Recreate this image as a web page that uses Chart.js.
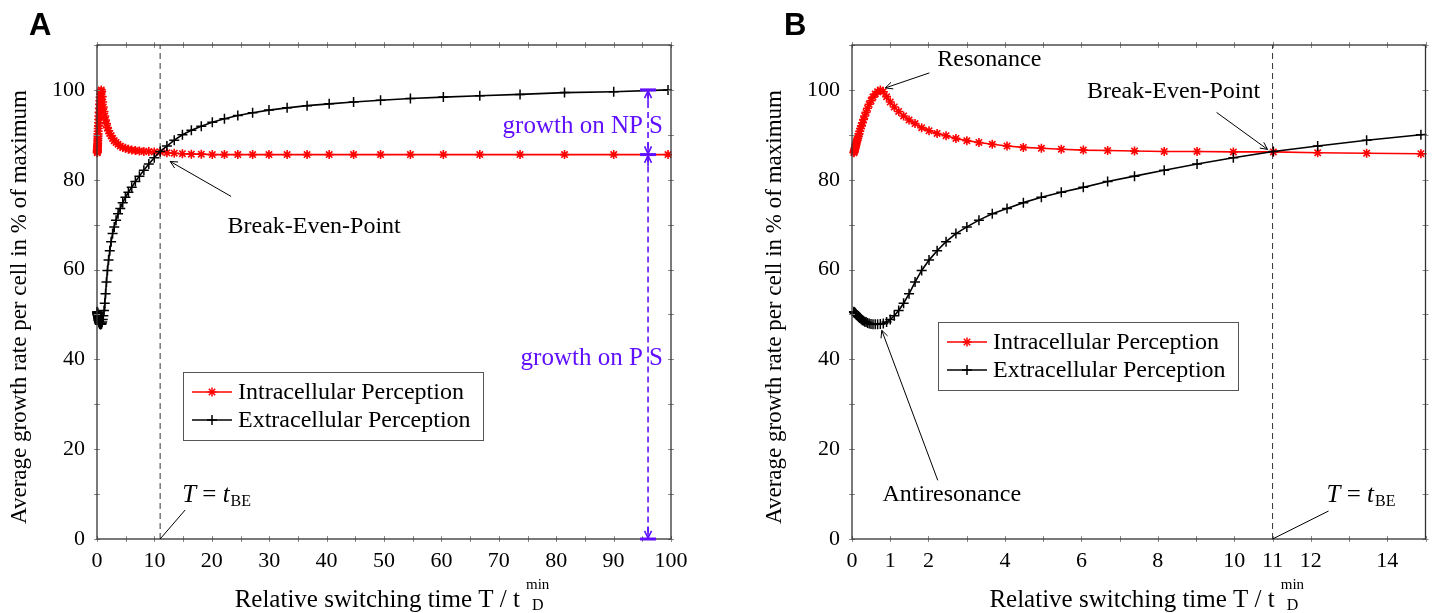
<!DOCTYPE html>
<html>
<head>
<meta charset="utf-8">
<script src="https://cdn.jsdelivr.net/npm/chart.js@4.4.0/dist/chart.umd.min.js"></script>
<style>
  html, body { margin: 0; padding: 0; background: #fff; }
  #chartA { position: absolute; left: 0; top: 0; }
  #chartB { position: absolute; left: 755px; top: 0; }
</style>
</head>
<body>
<canvas id="chartA" width="755" height="613"></canvas>
<canvas id="chartB" width="677" height="613"></canvas>
<script>
// relative switching time T / t_D^min of every marker (same runs in both panels)
const switchTimes = [
  0.050, 0.055, 0.061, 0.067, 0.074, 0.082, 0.091, 0.100, 0.111, 0.122,
  0.135, 0.150, 0.165, 0.183, 0.202, 0.223, 0.247, 0.273, 0.301, 0.333,
  0.368, 0.407, 0.449, 0.497, 0.549, 0.607, 0.670, 0.741, 0.819, 0.905,
  1.000, 1.105, 1.221, 1.350, 1.492, 1.649, 1.822, 2.014, 2.226, 2.460,
  2.718, 3.004, 3.320, 3.669, 4.055, 4.482, 4.953, 5.474, 6.050, 6.686,
  7.389, 8.166, 9.025, 9.974, 11.02, 12.18, 13.46, 14.88, 16.44, 18.17,
  20.09, 22.20, 24.53, 27.11, 29.96, 33.12, 36.60, 40.45, 44.70, 49.40,
  54.60, 60.34, 66.69, 73.70, 81.45, 90.02, 99.48
];

// average growth rate per cell, % of maximum
const intracellular = [
  86.0, 86.2, 86.4, 86.6, 86.8, 87.1, 87.4, 87.7, 88.0, 88.4,
  88.8, 89.2, 89.7, 90.2, 90.8, 91.4, 92.0, 92.7, 93.4, 94.2,
  95.0, 95.9, 96.8, 97.6, 98.4, 99.1, 99.6, 100.0, 99.6, 98.5,
  97.3, 96.2, 95.2, 94.2, 93.3, 92.5, 91.6, 90.9, 90.3, 89.8,
  89.2, 88.7, 88.3, 87.9, 87.5, 87.2, 87.0, 86.8, 86.6, 86.5,
  86.4, 86.3, 86.3, 86.2, 86.2, 86.0, 85.9, 85.8, 85.7, 85.7,
  85.6, 85.6, 85.6, 85.6, 85.6, 85.6, 85.6, 85.6, 85.6, 85.6,
  85.6, 85.6, 85.6, 85.6, 85.6, 85.6, 85.6
];

const extracellular = [
  50.6, 50.5, 50.5, 50.4, 50.4, 50.3, 50.2, 50.1, 50.0, 49.9,
  49.8, 49.7, 49.5, 49.4, 49.2, 49.1, 48.9, 48.7, 48.6, 48.4,
  48.3, 48.1, 48.0, 47.9, 47.8, 47.8, 47.8, 47.9, 48.0, 48.3,
  48.9, 49.7, 50.9, 52.5, 54.6, 57.2, 59.8, 62.1, 64.2, 66.2,
  68.0, 69.5, 71.0, 72.4, 73.6, 74.9, 76.1, 77.2, 78.3, 79.6,
  80.8, 82.1, 83.5, 84.9, 86.3, 87.5, 88.8, 90.0, 91.0, 91.9,
  92.8, 93.6, 94.3, 94.9, 95.5, 96.0, 96.5, 96.9, 97.3, 97.7,
  98.1, 98.4, 98.7, 99.0, 99.4, 99.6, 100.0
];

const seriesNames = ['Intracellular Perception', 'Extracellular Perception'];

// tick labels and tick marks
const xTicksA = [0, 10, 20, 30, 40, 50, 60, 70, 80, 90, 100];
const xMarksA = [0, 5, 10, 15, 20, 25, 30, 35, 40, 45, 50, 55, 60, 65, 70, 75, 80, 85, 90, 95, 100];
const xTicksB = [0, 1, 2, 4, 6, 8, 10, 11, 12, 14];
const xMarksB = [0, 1, 2, 3, 4, 5, 6, 7, 8, 9, 10, 11, 12, 13, 14, 15];
const yTicks = [0, 20, 40, 60, 80, 100];
const yMarks = [0, 10, 20, 30, 40, 50, 60, 70, 80, 90, 100, 110];

// reference points of the annotations
const breakEven = { x: 11, y: 86.3 };
const resonance = { x: 0.741, y: 100 };
const antiresonance = { x: 0.70, y: 47.8 };
const growthAt = 96;          // T where the growth ranges are marked
const growthLevels = [100, 85.6, 0];

const RED = '#ff0000';
const BLUE = '#6010ff';
const SERIF = '"Liberation Serif", "Times New Roman", serif';

Chart.defaults.font.family = SERIF;
Chart.defaults.font.size = 22;
Chart.defaults.color = '#000';

function line(ctx, x1, y1, x2, y2) {
  ctx.beginPath();
  ctx.moveTo(x1, y1);
  ctx.lineTo(x2, y2);
  ctx.stroke();
}

function arrow(ctx, x1, y1, x2, y2) {
  line(ctx, x1, y1, x2, y2);
  const a = Math.atan2(y2 - y1, x2 - x1);
  const len = 8;
  ctx.beginPath();
  ctx.moveTo(x2 - len * Math.cos(a - 0.45), y2 - len * Math.sin(a - 0.45));
  ctx.lineTo(x2, y2);
  ctx.lineTo(x2 - len * Math.cos(a + 0.45), y2 - len * Math.sin(a + 0.45));
  ctx.stroke();
}

function drawStar(ctx, x, y, r) {
  for (let i = 0; i < 4; i++) {
    const a = i * Math.PI / 4;
    line(ctx, x - r * Math.cos(a), y - r * Math.sin(a), x + r * Math.cos(a), y + r * Math.sin(a));
  }
}

function drawPlus(ctx, x, y, r) {
  line(ctx, x - r, y, x + r, y);
  line(ctx, x, y - r, x, y + r);
}

// "T = t_BE", x = left edge, y = middle
function drawTBE(ctx, x, y) {
  ctx.textAlign = 'left';
  ctx.textBaseline = 'alphabetic';
  const base = y + 8;
  ctx.font = 'italic 25px ' + SERIF;
  ctx.fillText('T', x, base);
  x += ctx.measureText('T').width;
  ctx.font = '25px ' + SERIF;
  ctx.fillText(' = ', x, base);
  x += ctx.measureText(' = ').width;
  ctx.font = 'italic 25px ' + SERIF;
  ctx.fillText('t', x, base);
  x += ctx.measureText('t').width + 1;
  ctx.font = '16px ' + SERIF;
  ctx.fillText('BE', x, base + 4);
}

function drawLegend(ctx, left, top) {
  const w = 300, h = 68;
  ctx.fillStyle = '#fff';
  ctx.fillRect(left, top, w, h);
  ctx.strokeStyle = '#555';
  ctx.lineWidth = 1;
  ctx.strokeRect(left + 0.5, top + 0.5, w, h);
  const colors = [RED, '#000'];
  seriesNames.forEach((name, i) => {
    const cy = top + 20 + i * 28;
    ctx.strokeStyle = colors[i];
    ctx.lineWidth = 1.5;
    line(ctx, left + 9, cy, left + 49, cy);
    ctx.lineWidth = 1.5;
    if (i === 0) drawStar(ctx, left + 29, cy, 4.5); else drawPlus(ctx, left + 29, cy, 5);
    ctx.fillStyle = '#000';
    ctx.font = '24px ' + SERIF;
    ctx.textAlign = 'left';
    ctx.textBaseline = 'middle';
    ctx.fillText(name, left + 55, cy + 1);
  });
}

function drawAxisTitles(chart) {
  const { ctx, chartArea: a } = chart;
  ctx.save();
  ctx.fillStyle = '#000';
  // y title
  ctx.translate(20, (a.top + a.bottom) / 2 + 15);
  ctx.rotate(-Math.PI / 2);
  ctx.font = '23px ' + SERIF;
  ctx.textAlign = 'center';
  ctx.textBaseline = 'middle';
  ctx.fillText('Average growth rate per cell in % of maximum', 0, 0);
  ctx.restore();

  // x title with t_D^min
  ctx.save();
  ctx.fillStyle = '#000';
  ctx.textAlign = 'left';
  ctx.textBaseline = 'alphabetic';
  const main = 'Relative switching time T / t';
  ctx.font = '25px ' + SERIF;
  const wMain = ctx.measureText(main).width;
  ctx.font = '15px ' + SERIF;
  const wSup = ctx.measureText('min').width;
  const total = wMain + 6 + wSup;
  const x0 = (a.left + a.right) / 2 + 8 - total / 2;
  ctx.font = '25px ' + SERIF;
  ctx.fillText(main, x0, 607);
  ctx.font = '15px ' + SERIF;
  ctx.fillText('min', x0 + wMain + 6, 589);
  ctx.font = '16px ' + SERIF;
  ctx.fillText('D', x0 + wMain + 6 + (wSup - ctx.measureText('D').width) / 2, 610);
  ctx.restore();
}

function drawFrame(chart, xMarks) {
  const { ctx, chartArea: a, scales: { x, y } } = chart;
  ctx.save();
  ctx.strokeStyle = '#8a8a8a';
  ctx.lineWidth = 1;
  xMarks.forEach(v => {
    const px = Math.round(x.getPixelForValue(v)) + 0.5;
    line(ctx, px, a.bottom - 3, px, a.bottom + 3);
    line(ctx, px, a.top - 3, px, a.top + 3);
  });
  yMarks.forEach(v => {
    const py = Math.round(y.getPixelForValue(v)) + 0.5;
    line(ctx, a.left - 3, py, a.left + 3, py);
    line(ctx, a.right - 3, py, a.right + 3, py);
  });
  ctx.strokeStyle = '#333';
  ctx.lineWidth = 1.3;
  ctx.strokeRect(a.left, a.top, a.right - a.left, a.bottom - a.top);
  ctx.restore();
}

function drawBreakEvenLine(chart) {
  const { ctx, chartArea: a, scales: { x } } = chart;
  const px = x.getPixelForValue(breakEven.x);
  ctx.save();
  ctx.strokeStyle = '#333';
  ctx.lineWidth = 1;
  ctx.setLineDash([6, 4]);
  line(ctx, px, a.bottom, px, a.top);
  ctx.restore();
}

function annotateA(chart) {
  const { ctx, chartArea: a, scales: { x, y } } = chart;
  ctx.save();
  ctx.strokeStyle = '#000';
  ctx.fillStyle = '#000';
  ctx.lineWidth = 1;
  const bx = x.getPixelForValue(breakEven.x), by = y.getPixelForValue(breakEven.y);
  arrow(ctx, bx + 71, by + 45, bx + 10, by + 10);
  ctx.font = '24px ' + SERIF;
  ctx.textAlign = 'center';
  ctx.textBaseline = 'middle';
  ctx.fillText('Break-Even-Point', bx + 154, by + 75);

  const zy = y.getPixelForValue(0);
  line(ctx, bx, zy, bx + 25, zy - 29);
  drawTBE(ctx, bx + 22, zy - 45);

  // growth ranges on the two substrates
  const gx = x.getPixelForValue(growthAt);
  const [yTop, yMid, yBot] = growthLevels.map(v => y.getPixelForValue(v));
  ctx.strokeStyle = BLUE;
  ctx.fillStyle = BLUE;
  ctx.lineWidth = 1.6;
  ctx.setLineDash([6, 4]);
  line(ctx, gx, yTop + 2, gx, yMid - 2);
  line(ctx, gx, yMid + 2, gx, yBot - 2);
  ctx.setLineDash([]);
  arrow(ctx, gx, yTop + 12, gx, yTop + 1);
  arrow(ctx, gx, yMid - 12, gx, yMid - 1);
  arrow(ctx, gx, yMid + 12, gx, yMid + 1);
  arrow(ctx, gx, yBot - 12, gx, yBot - 1);
  ctx.lineWidth = 3;
  [yTop, yMid, yBot].forEach(py => line(ctx, gx - 8, py, gx + 8, py));
  ctx.font = '25px ' + SERIF;
  ctx.textAlign = 'right';
  ctx.textBaseline = 'middle';
  ctx.fillText('growth on NP S', a.right - 8, y.getPixelForValue(91.8));
  ctx.fillText('growth on P S', a.right - 8, y.getPixelForValue(40.3));
  ctx.restore();

  drawLegend(ctx, a.left + 86, a.top + 327);
}

function annotateB(chart) {
  const { ctx, chartArea: a, scales: { x, y } } = chart;
  ctx.save();
  ctx.strokeStyle = '#000';
  ctx.fillStyle = '#000';
  ctx.lineWidth = 1;
  ctx.font = '24px ' + SERIF;
  ctx.textAlign = 'center';
  ctx.textBaseline = 'middle';

  const rx = x.getPixelForValue(resonance.x), ry = y.getPixelForValue(resonance.y);
  arrow(ctx, rx + 49, ry - 17, rx + 5, ry - 2);
  ctx.fillText('Resonance', rx + 109, ry - 30);

  const bx = x.getPixelForValue(breakEven.x), by = y.getPixelForValue(breakEven.y);
  arrow(ctx, bx - 56, by - 39, bx - 5, by - 2);
  ctx.fillText('Break-Even-Point', bx - 99, by - 60);

  const ax = x.getPixelForValue(antiresonance.x), ay = y.getPixelForValue(antiresonance.y);
  arrow(ctx, ax + 59, ay + 156, ax + 3, ay + 6);
  ctx.fillText('Antiresonance', ax + 73, ay + 170);

  const zy = y.getPixelForValue(0);
  line(ctx, bx, zy, bx + 56, zy - 28);
  drawTBE(ctx, bx + 54, zy - 45);
  ctx.restore();

  drawLegend(ctx, a.left + 86, a.top + 277);
}

function drawPanelLetter(ctx, letter) {
  ctx.save();
  ctx.fillStyle = '#000';
  ctx.font = 'bold 31px "Liberation Sans", Arial, sans-serif';
  ctx.textAlign = 'left';
  ctx.textBaseline = 'alphabetic';
  ctx.fillText(letter, 29, 35);
  ctx.restore();
}

function buildChart(canvasId, cfg) {
  const clip = { left: 8, top: 8, right: 1, bottom: 8 };
  return new Chart(document.getElementById(canvasId), {
    type: 'line',
    data: {
      datasets: [
        {
          label: seriesNames[0],
          data: switchTimes.map((t, i) => ({ x: t, y: intracellular[i] })),
          borderColor: RED,
          backgroundColor: RED,
          borderWidth: 1.6,
          pointStyle: 'star',
          pointRadius: 4.5,
          pointBorderWidth: 1.6,
          pointBorderColor: RED,
          tension: 0,
          order: 1,
          clip: clip
        },
        {
          label: seriesNames[1],
          data: switchTimes.map((t, i) => ({ x: t, y: extracellular[i] })),
          borderColor: '#000',
          backgroundColor: '#000',
          borderWidth: 1.6,
          pointStyle: 'cross',
          pointRadius: 5,
          pointBorderWidth: 1.5,
          pointBorderColor: '#000',
          tension: 0,
          order: 0,
          clip: clip
        }
      ]
    },
    options: {
      responsive: false,
      animation: false,
      layout: { padding: { top: 45, right: cfg.padRight, left: 0, bottom: 0 } },
      plugins: {
        legend: { display: false },
        tooltip: { enabled: false }
      },
      scales: {
        x: {
          type: 'linear',
          min: 0,
          max: cfg.xMax,
          grid: { display: false, drawTicks: false },
          border: { display: false },
          ticks: { padding: 9, autoSkip: false, maxRotation: 0, font: { size: 22 } },
          afterBuildTicks: s => { s.ticks = cfg.xTicks.map(v => ({ value: v })); },
          afterFit: s => { s.height = 74; }
        },
        y: {
          type: 'linear',
          min: 0,
          max: 110,
          grid: { display: false, drawTicks: false },
          border: { display: false },
          ticks: { padding: 12, font: { size: 22 } },
          afterBuildTicks: s => { s.ticks = yTicks.map(v => ({ value: v })); },
          afterFit: s => { s.width = 97; }
        }
      }
    },
    plugins: [{
      id: 'paperStyle',
      beforeDatasetsDraw(chart) {
        drawBreakEvenLine(chart);
      },
      afterDraw(chart) {
        drawFrame(chart, cfg.xMarks);
        cfg.annotate(chart);
        drawAxisTitles(chart);
        drawPanelLetter(chart.ctx, cfg.letter);
      }
    }]
  });
}

buildChart('chartA', { xMax: 100, xTicks: xTicksA, xMarks: xMarksA, padRight: 84, annotate: annotateA, letter: 'A' });
buildChart('chartB', { xMax: 15, xTicks: xTicksB, xMarks: xMarksB, padRight: 5, annotate: annotateB, letter: 'B' });
</script>
</body>
</html>
